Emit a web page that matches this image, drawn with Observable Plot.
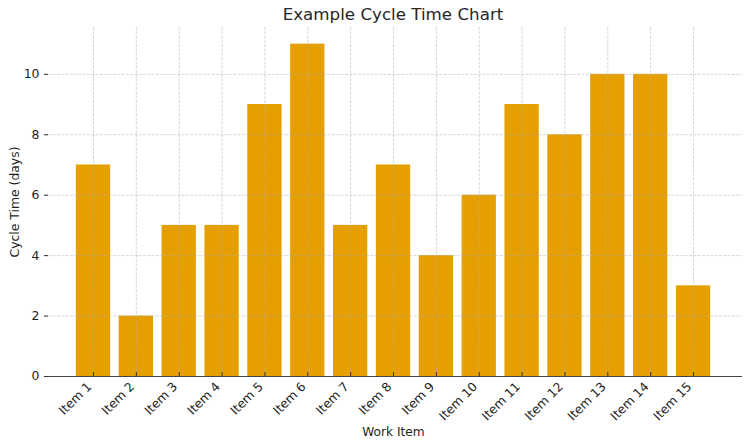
<!DOCTYPE html>
<html>
<head>
<meta charset="utf-8">
<script src="https://cdn.jsdelivr.net/npm/d3@7"></script>
<script src="https://cdn.jsdelivr.net/npm/@observablehq/plot@0.6"></script>
<style>
  body { margin: 0; background: #fff; font-family: "DejaVu Sans", sans-serif; }
  #wrap { position: relative; width: 750px; height: 447px; }
  #title { position: absolute; top: 4px; left: 44px; width: 698px; text-align: center;
           font-size: 16.7px; color: #262626; line-height: 20px; }
  svg { display: block; }
</style>
</head>
<body>
<div id="wrap">
  <div id="title">Example Cycle Time Chart</div>
  <div id="chart"></div>
</div>
<script>
const items = ["Item 1","Item 2","Item 3","Item 4","Item 5","Item 6","Item 7","Item 8","Item 9","Item 10","Item 11","Item 12","Item 13","Item 14","Item 15"];
const cycleTimes = [7, 2, 5, 5, 9, 11, 5, 7, 4, 6, 9, 8, 10, 10, 3];
const yTicks = [0, 2, 4, 6, 8, 10];

const data = items.map((item, i) => ({item, days: cycleTimes[i]}));

const W = 750, H = 447, mL = 44, mR = 8, mT = 27, mB = 71;
const frameW = W - mL - mR, frameH = H - mT - mB;
const step = 42.86;
const c0 = 93;

const gridStyle = {stroke: "#b0b0b0", strokeOpacity: 0.65, strokeWidth: 0.8, strokeDasharray: "3,1.3"};

const chart = Plot.plot({
  width: W, height: H,
  marginLeft: mL, marginRight: mR, marginTop: mT, marginBottom: mB,
  style: {fontFamily: "DejaVu Sans, sans-serif", fontSize: "12.2px", color: "#1f1f1f", background: "#fff"},
  x: {domain: items, range: [c0 - step / 2, c0 + step * 14 + step / 2], paddingInner: 0.2, paddingOuter: 0.1, round: false, label: null},
  y: {domain: [0, 11.55], label: null},
  marks: [
    Plot.barY(data, {x: "item", y: "days", fill: "#E69F00"}),
    Plot.gridX(items, {...gridStyle}),
    Plot.gridY(yTicks, {...gridStyle}),
    Plot.ruleX([0], {x: () => null, frameAnchor: "left", stroke: "#444", strokeWidth: 1.2}),
    Plot.ruleY([0], {stroke: "#444", strokeWidth: 1.2}),
    Plot.tickY(yTicks, {y: d => d, insetRight: frameW - 4, stroke: "#333", strokeWidth: 1}),
    Plot.tickX(items, {x: d => d, insetTop: frameH - 4, stroke: "#333", strokeWidth: 1}),
    Plot.axisY(yTicks, {tickSize: 0, tickPadding: 5, fontSize: 12.4, label: "Cycle Time (days)", labelAnchor: "center", labelArrow: "none", labelOffset: 34}),
    Plot.axisX(items, {tickSize: 0, tickRotate: -45, tickPadding: 6, dx: -4, dy: 2, fontSize: 12.4, label: null}),
    Plot.axisX({ticks: [], tickSize: 0, label: "Work Item", labelAnchor: "center", labelArrow: "none", labelOffset: 59, fontSize: 12.2})
  ]
});
document.getElementById("chart").appendChild(chart);
</script>
</body>
</html>
